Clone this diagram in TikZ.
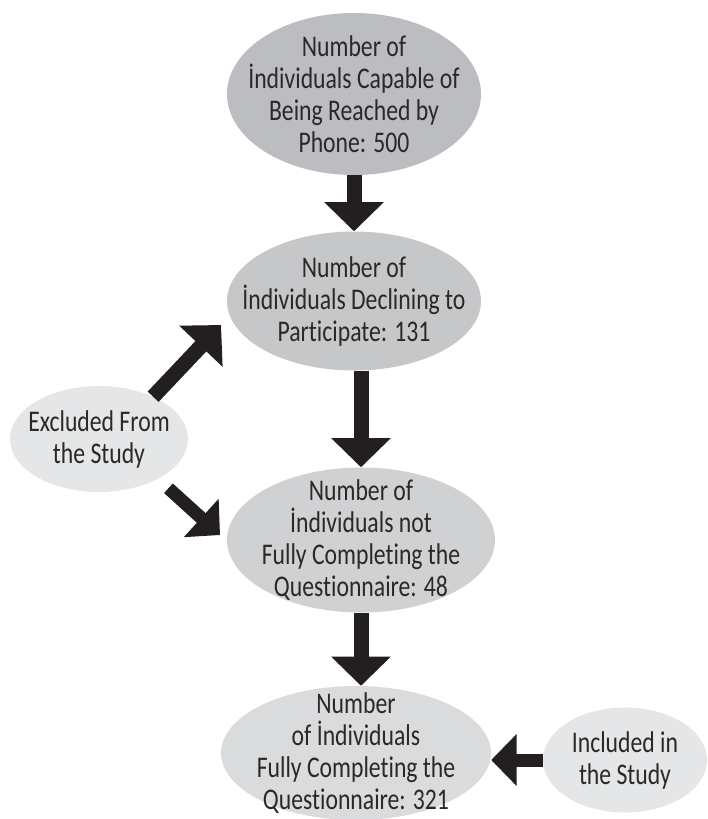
\documentclass[tikz,border=0pt]{standalone}
\usepackage{fontspec}
\setmainfont{Carlito}[FakeStretch=0.79, Ligatures=NoCommon]
\usetikzlibrary{shapes.geometric,arrows.meta}

\definecolor{ink}{HTML}{2A2829}
\definecolor{arrowink}{HTML}{231F20}
\definecolor{g1}{HTML}{BCBDC0}
\definecolor{g2}{HTML}{C6C7C9}
\definecolor{g3}{HTML}{D0D1D3}
\definecolor{g4}{HTML}{DADBDD}
\definecolor{g5}{HTML}{E5E6E7}

\tikzset{
    bubble/.style={ellipse, inner sep=0pt},
    words/.style={align=center, text=ink, font=\fontsize{30}{32}\selectfont},
    push/.style={draw=arrowink, line width=#1, -{Triangle[width=0pt 3.87,length=0pt 1.95]}},
    push/.default=15pt
}

\begin{document}
\begin{tikzpicture}[x=1pt, y=-1pt]
    \useasboundingbox (0,0) rectangle (707,819);

    % main column
    \node[bubble, fill=g1, minimum width=254pt, minimum height=162pt,
          label={[words, name=reach-t]center:{Number of\\İndividuals Capable of\\Being Reached by\\Phone: 500}}]
          (reach) at (354,94) {};
    \node[bubble, fill=g2, minimum width=254pt, minimum height=139pt,
          label={[words, name=decline-t]center:{Number of\\İndividuals Declining to\\Participate: 131}}]
          (decline) at (354,301) {};
    \node[bubble, fill=g3, minimum width=268pt, minimum height=145pt,
          label={[words, name=notfull-t]center:{Number of\\İndividuals not\\Fully Completing the\\Questionnaire: 48}}]
          (notfull) at (361,540) {};
    \node[bubble, fill=g4, minimum width=270pt, minimum height=134pt,
          label={[words, name=full-t]center:{Number\\of İndividuals\\Fully Completing the\\Questionnaire: 321}}]
          (full) at (356,753) {};

    % side bubbles
    \node[bubble, fill=g5, minimum width=178pt, minimum height=106pt,
          label={[words, name=excl-t]center:{Excluded From\\the Study}}]
          (excl) at (99,439) {};
    \node[bubble, fill=g5, minimum width=164pt, minimum height=105pt,
          label={[words, name=incl-t]center:{Included in\\the Study}}]
          (incl) at (625,760) {};

    % arrows
    \coordinate (up-tip) at (221,325);
    \coordinate (down-tip) at (220,535);
    \draw[push] (reach) -- (decline);
    \draw[push] (decline.south -| notfull) -- (notfull.north);
    \draw[push] (notfull.south) -- (notfull.south |- full.north);
    \draw[push=13pt] (incl.west) -- (incl.west -| full.east);
    \draw[push] (excl.38) -- (up-tip);
    \draw[push=13pt, shorten <=14pt] (excl.-34) -- (down-tip);
\end{tikzpicture}
\end{document}
